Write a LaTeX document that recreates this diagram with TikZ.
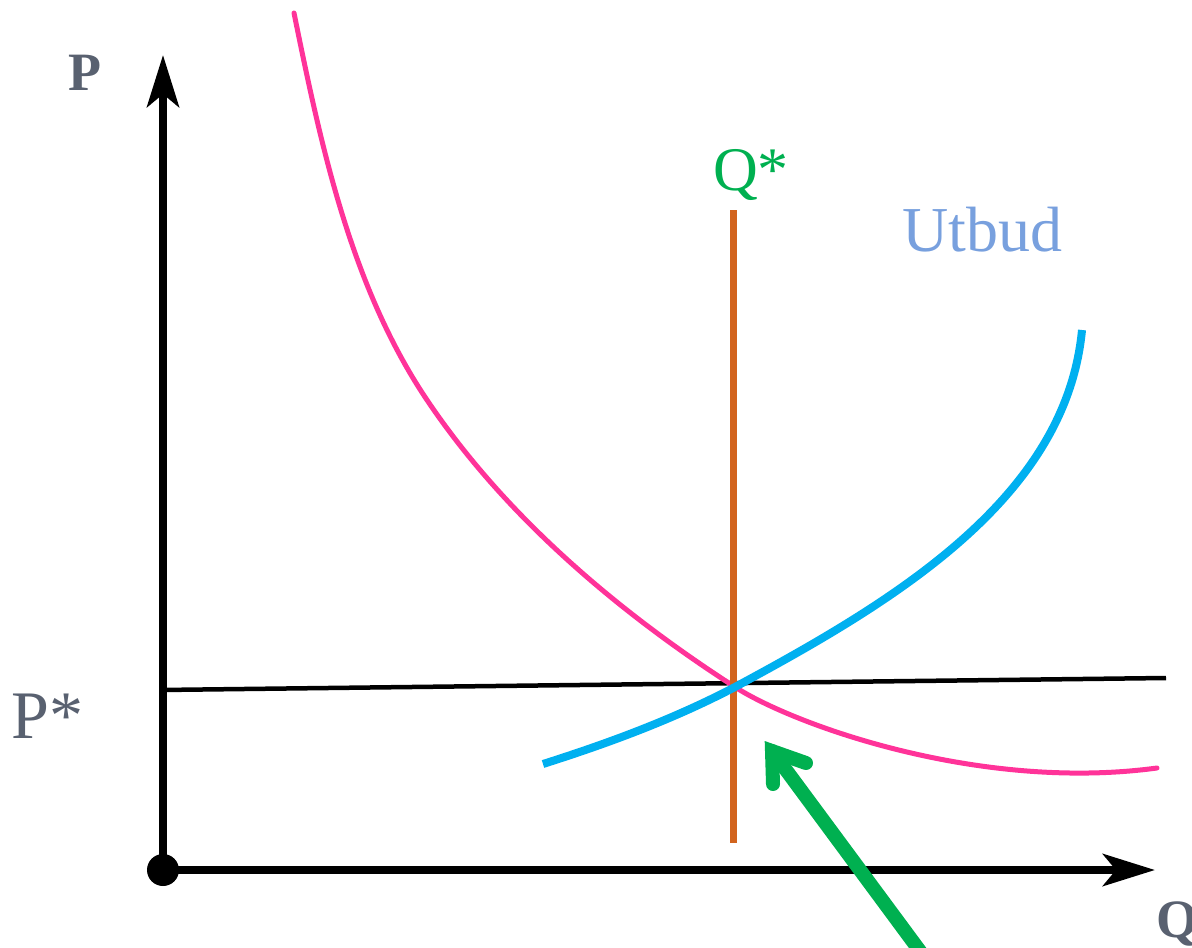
\documentclass[tikz,border=0pt]{standalone}
\usepackage{fontspec}
\setmainfont{Liberation Serif}
\usetikzlibrary{arrows.meta}
\definecolor{axgray}{RGB}{89,97,112}
\definecolor{qgreen}{RGB}{0,176,80}
\definecolor{utblue}{RGB}{120,160,222}
\definecolor{dpink}{RGB}{255,51,153}
\definecolor{sblue}{RGB}{0,176,240}
\definecolor{qorange}{RGB}{210,100,30}
\tikzset{
  axisline/.style={line width=8bp, black},
  axtip/.style={-{Stealth[length=52bp,width=32bp,inset=13bp]}},
  lbl/.style={inner sep=0pt, anchor=base west},
}
\begin{document}
\begin{tikzpicture}[x=1bp,y=-1bp]
\useasboundingbox (0,0) rectangle (1192,948);
\clip (0,0) rectangle (1192,948);
% axes
\coordinate (O) at (163,870);
\coordinate (Ptop) at (163,55);
\coordinate (Qend) at (1155,870);
\draw[axisline, axtip] (O) -- (Ptop);
\draw[axisline, axtip] (O) -- (Qend);
\fill[black] (O) circle (16);
% price line
\coordinate (pl) at (160,690);
\coordinate (pr) at (1166,678);
\draw[line width=4.5bp, black] (pl) -- (pr);
% demand (pink)
\coordinate (E) at (735,687);
\draw[dpink, line width=5bp, line cap=round]
  (294,13) .. controls (321,146) and (351,287) .. (427,400)
  .. controls (505,516) and (617,611) .. (E)
  .. controls (794,725) and (980,792) .. (1157,768);
% Q* line
\coordinate (qt) at (733,210);
\coordinate (qb) at (733,843);
\draw[qorange, line width=7bp] (qt) -- (qb);
% supply (blue)
\draw[sblue, line width=8bp]
  (543,764) .. controls (609,743) and (674,719) .. (E)
  .. controls (893,602) and (1066,499) .. (1082,330);
% green arrow
\coordinate (gs) at (928,962);
\coordinate (gv) at (772,751);
\coordinate (gb1) at (806,763);
\coordinate (gb2) at (773,784);
\draw[qgreen, line width=14bp, line cap=round] (gs) -- (gv);
\draw[qgreen, line width=14bp, line cap=round, line join=miter] (gb1) -- (gv) -- (gb2);
% labels
\node[lbl, text=axgray, font=\fontsize{54bp}{60bp}\selectfont\bfseries] (Plbl) at (68,90) {P};
\node[lbl, text=axgray, font=\fontsize{54bp}{60bp}\selectfont\bfseries] (Qlbl) at (1156,937) {Q};
\node[lbl, text=axgray, font=\fontsize{68bp}{74bp}\selectfont] (Pstar) at (11,738) {P*};
\node[lbl, text=qgreen, font=\fontsize{62bp}{68bp}\selectfont] (Qstar) at (713,190) {Q*};
\node[lbl, text=utblue, font=\fontsize{64bp}{70bp}\selectfont] (Utb) at (902,251) {Utbud};
\end{tikzpicture}
\end{document}
